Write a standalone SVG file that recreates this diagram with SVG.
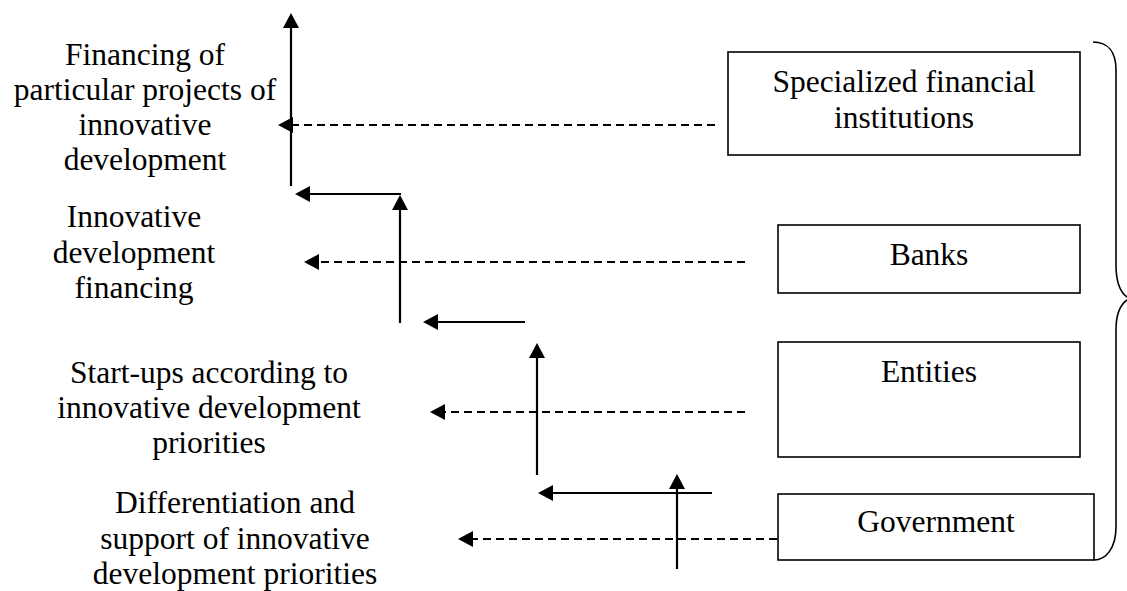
<svg xmlns="http://www.w3.org/2000/svg" width="1127" height="591" viewBox="0 0 1127 591">
<style>
text{font-family:"Liberation Serif","Times New Roman",serif;font-size:31.5px;fill:#000;text-anchor:middle}
.box{fill:#fff;stroke:#000;stroke-width:1.6}
.solid{stroke:#000;stroke-width:2.2;fill:none;marker-end:url(#ah)}
.dash{stroke:#000;stroke-width:2.2;fill:none;stroke-dasharray:8 5;marker-end:url(#ah)}
.brace{stroke:#000;stroke-width:1.6;fill:none}
</style>
<defs>
<marker id="ah" markerUnits="userSpaceOnUse" markerWidth="16" markerHeight="16" refX="12" refY="8" orient="auto" viewBox="0 0 16 16">
<path d="M0,0 L15,8 L0,16 z" fill="#000" stroke="none"/>
</marker>
</defs>
<rect width="1127" height="591" fill="#fff"/>
<g id="label-financing-projects">
<text x="145" y="65">Financing of</text>
<text x="145" y="100">particular projects of</text>
<text x="145" y="135">innovative</text>
<text x="145" y="170">development</text>
</g>
<g id="label-innovative-financing">
<text x="134" y="227">Innovative</text>
<text x="134" y="263">development</text>
<text x="134" y="298">financing</text>
</g>
<g id="label-startups">
<text x="209" y="383">Start-ups according to</text>
<text x="209" y="418">innovative development</text>
<text x="209" y="453">priorities</text>
</g>
<g id="label-differentiation">
<text x="235" y="513">Differentiation and</text>
<text x="235" y="549">support of innovative</text>
<text x="235" y="584">development priorities</text>
</g>
<g id="node-specialized">
<rect class="box" x="728" y="52" width="352" height="103"/>
<text x="904" y="92">Specialized financial</text>
<text x="904" y="128">institutions</text>
</g>
<g id="node-banks">
<rect class="box" x="778" y="225" width="302" height="68"/>
<text x="929" y="265">Banks</text>
</g>
<g id="node-entities">
<rect class="box" x="778" y="342" width="302" height="115"/>
<text x="929" y="382">Entities</text>
</g>
<g id="node-government">
<rect class="box" x="778" y="494" width="316" height="66"/>
<text x="936" y="532">Government</text>
</g>
<g id="brace">
<path class="brace" d="M1093,42 C1108,42 1116,52 1116,70 L1116,265 C1116,283 1120,292 1127,297"/>
<path class="brace" d="M1127,300 C1120,305 1116,315 1116,330 L1116,527 C1116,548 1106,560 1094,560"/>
</g>
<g id="connectors">
<line class="solid" x1="291" y1="186" x2="291" y2="16"/>
<line class="dash" x1="715" y1="125" x2="281" y2="125"/>
<line class="solid" x1="401" y1="194" x2="298" y2="194"/>
<line class="solid" x1="400" y1="323" x2="400" y2="198"/>
<line class="dash" x1="745" y1="262" x2="307" y2="262"/>
<line class="solid" x1="525" y1="322" x2="426" y2="322"/>
<line class="solid" x1="537" y1="475" x2="537" y2="346"/>
<line class="dash" x1="745" y1="412" x2="433" y2="412"/>
<line class="solid" x1="712" y1="493" x2="541" y2="493"/>
<line class="solid" x1="677" y1="569" x2="677" y2="477"/>
<line class="dash" x1="777" y1="539" x2="461" y2="539"/>
</g>
</svg>
